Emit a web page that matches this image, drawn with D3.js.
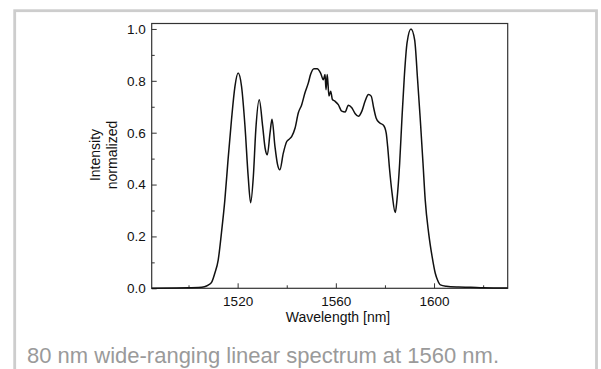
<!DOCTYPE html>
<html lang="en">
<head>
    <meta charset="UTF-8">
    <title>80 nm wide-ranging linear spectrum</title>
    <script src="https://d3js.org/d3.v7.min.js"></script>
    <style>
        body {
            margin: 0;
            background: #fff;
            font-family: "Liberation Sans", Arial, sans-serif;
        }
        .tick text {
            font-family: "Liberation Sans", Arial, sans-serif;
            font-size: 13.5px;
            fill: #111;
        }
        .tick line {
            stroke: #333;
        }
    </style>
</head>
<body>
    <div id="chart-container"></div>
    <script>
        // spectrum
        const wavelength = [
            1485, 1495, 1500, 1504, 1506.5, 1508, 1509.5, 1510.7, 1512.1, 1513.4,
            1514.8, 1516.1, 1517.5, 1518.9, 1520.2, 1521.6, 1523, 1524.3, 1525.3, 1526.4,
            1527.4, 1528.8, 1530.2, 1531.2, 1532.1, 1533.2, 1534, 1535.2, 1536.2, 1537.2,
            1538.6, 1540, 1541, 1542, 1543.4, 1544.7, 1546.1, 1547.4, 1548.8, 1549.7,
            1551.1, 1552.4, 1553.8, 1554.9, 1555.6, 1556, 1556.5, 1557.2, 1557.9, 1558.6,
            1559.7, 1561, 1562.4, 1563.8, 1565.1, 1566.5, 1567.9, 1569.2, 1570.6, 1571.9,
            1573.3, 1574.4, 1575.4, 1576.4, 1577.8, 1579.4, 1580.5, 1581.1, 1581.9, 1582.9,
            1584.2, 1584.9, 1586, 1586.9, 1587.9, 1589, 1590.6, 1592.1, 1593.3, 1594.4,
            1595.5, 1596.4, 1597.8, 1599.2, 1600.5, 1601.5, 1602.6, 1605, 1610, 1615,
            1620, 1630
        ];
        const intensity = [
            0, 0.001, 0.002, 0.003, 0.006, 0.012, 0.025, 0.058, 0.11, 0.213,
            0.341, 0.496, 0.65, 0.778, 0.83, 0.778, 0.624, 0.431, 0.33, 0.431,
            0.611, 0.727, 0.624, 0.54, 0.515, 0.599, 0.652, 0.547, 0.48, 0.457,
            0.521, 0.566, 0.575, 0.585, 0.618, 0.676, 0.708, 0.753, 0.792, 0.824,
            0.847, 0.847, 0.83, 0.804, 0.824, 0.766, 0.824, 0.741, 0.76, 0.728,
            0.721, 0.708, 0.683, 0.68, 0.706, 0.696, 0.673, 0.663, 0.683, 0.721,
            0.747, 0.741, 0.696, 0.657, 0.638, 0.629, 0.599, 0.547, 0.457, 0.367,
            0.292, 0.341, 0.483, 0.65, 0.817, 0.946, 1.0, 0.958, 0.804, 0.65,
            0.483, 0.341, 0.213, 0.123, 0.058, 0.03, 0.013, 0.008, 0.005, 0.004,
            0.002, 0.001
        ];

        const xMajorTicks = [1520, 1560, 1600];
        const xMinorTicks = [1500, 1540, 1580, 1620];
        const yMajorTicks = [0, 0.2, 0.4, 0.6, 0.8, 1.0];
        const yMinorTicks = [0.1, 0.3, 0.5, 0.7, 0.9];

        const caption = "80 nm wide-ranging linear spectrum at 1560 nm.";

        const data = wavelength.map((w, i) => ({ w, v: intensity[i] }));

        const margin = { top: 23.5, right: 93.3, bottom: 80.7, left: 151.7 };
        const totalWidth = 601, totalHeight = 369;
        const width = totalWidth - margin.left - margin.right;
        const height = totalHeight - margin.top - margin.bottom;

        const root = d3.select("#chart-container").append("svg")
            .attr("width", totalWidth)
            .attr("height", totalHeight);

        // light grey frame round the figure
        root.append("rect")
            .attr("x", 14.7)
            .attr("y", 10.7)
            .attr("width", 581.8)
            .attr("height", 420)
            .attr("fill", "none")
            .attr("stroke", "#cdcdcd")
            .attr("stroke-width", 2.8);

        const svg = root.append("g")
            .attr("transform", `translate(${margin.left},${margin.top})`);

        const x = d3.scaleLinear()
            .domain([1485, 1630])
            .range([0, width]);

        const y = d3.scaleLinear()
            .domain([0, 1.021])
            .range([height, 0]);

        // major ticks point inwards
        const xAxis = svg.append("g")
            .attr("transform", `translate(0,${height})`)
            .call(d3.axisBottom(x).tickValues(xMajorTicks).tickSize(-5).tickPadding(8).tickFormat(d3.format("d")));
        xAxis.select(".domain").remove();

        const xMinor = svg.append("g")
            .attr("transform", `translate(0,${height})`)
            .call(d3.axisBottom(x).tickValues(xMinorTicks).tickSize(-3).tickFormat(""));
        xMinor.select(".domain").remove();

        const yAxis = svg.append("g")
            .call(d3.axisLeft(y).tickValues(yMajorTicks).tickSize(-5).tickPadding(6).tickFormat(d3.format(".1f")));
        yAxis.select(".domain").remove();

        const yMinor = svg.append("g")
            .call(d3.axisLeft(y).tickValues(yMinorTicks).tickSize(-3).tickFormat(""));
        yMinor.select(".domain").remove();

        // plot box
        svg.append("rect")
            .attr("width", width)
            .attr("height", height)
            .attr("fill", "none")
            .attr("stroke", "#333")
            .attr("stroke-width", 1.2);

        const line = d3.line()
            .x(d => x(d.w))
            .y(d => y(d.v))
            .curve(d3.curveMonotoneX);

        svg.append("path")
            .datum(data)
            .attr("fill", "none")
            .attr("stroke", "#111")
            .attr("stroke-width", 1.5)
            .attr("stroke-linejoin", "round")
            .attr("d", line);

        // axis titles
        svg.append("text")
            .attr("x", 338 - margin.left)
            .attr("y", height + 34)
            .attr("text-anchor", "middle")
            .style("font-size", "14px")
            .attr("fill", "#111")
            .text("Wavelength [nm]");

        const yTitle = root.append("text")
            .attr("transform", "translate(0,155) rotate(-90)")
            .attr("text-anchor", "middle")
            .style("font-size", "14px")
            .attr("fill", "#111");
        yTitle.append("tspan").attr("x", 0).attr("y", 100).text("Intensity");
        yTitle.append("tspan").attr("x", 0).attr("y", 116.5).text("normalized");

        root.append("text")
            .attr("x", 27)
            .attr("y", 363)
            .style("font-size", "22px")
            .attr("fill", "#9a9a9a")
            .text(caption);
    </script>
</body>
</html>
